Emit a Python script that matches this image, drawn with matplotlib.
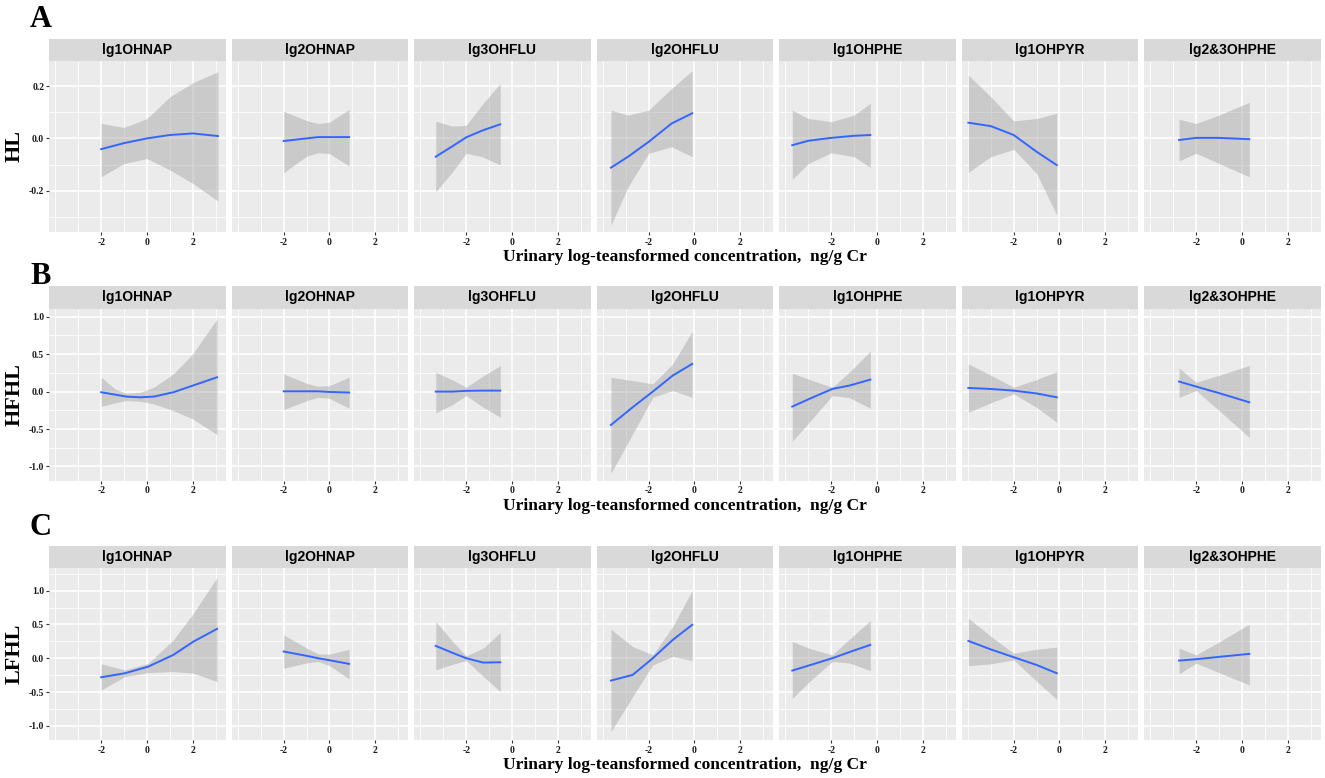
import numpy as np
import matplotlib
matplotlib.use('Agg')
import matplotlib.pyplot as plt

# 污染物名称（分面标题）
panels = ['lg1OHNAP', 'lg2OHNAP', 'lg3OHFLU', 'lg2OHFLU', 'lg1OHPHE', 'lg1OHPYR', 'lg2&3OHPHE']
rows = ['HL', 'HFHL', 'LFHL']
letters = ['A', 'B', 'C']

# 每个分面的x取值（各行共用）
x_nap1 = [-2, -1, 0, 1, 2, 3.1]
x_nap2 = [-2, -1, -0.5, 0, 0.86]
x_flu3 = [-3.33, -2.6, -2.0, -1.3, -0.51]
x_flu2 = [-3.65, -2.7, -1.82, -0.95, -0.10]
x_phe1 = [-3.70, -2.9, -1.95, -1.21, -0.29]
x_pyr1 = [-3.98, -3.0, -2.0, -1.0, -0.12]
x_phe23 = [-2.75, -2.0, -1.0, 0.32]

# A: HL
hl_x = [x_nap1, x_nap2, x_flu3,
        [-3.65, -2.9, -2.0, -1.0, -0.1],
        [-3.70, -3.0, -2.0, -1.0, -0.29],
        x_pyr1, x_phe23]
hl_fit = [[-0.041, -0.018, 0.0, 0.013, 0.019, 0.009],
          [-0.010, 0.0, 0.005, 0.005, 0.005],
          [-0.070, -0.030, 0.004, 0.030, 0.054],
          [-0.112, -0.070, -0.013, 0.057, 0.096],
          [-0.026, -0.009, 0.002, 0.010, 0.013],
          [0.060, 0.047, 0.013, -0.051, -0.102],
          [-0.006, 0.002, 0.002, -0.003]]
hl_hi = [[0.057, 0.042, 0.076, 0.159, 0.213, 0.255],
         [0.104, 0.068, 0.057, 0.062, 0.111],
         [0.066, 0.047, 0.050, 0.130, 0.210],
         [0.108, 0.089, 0.108, 0.191, 0.259],
         [0.108, 0.076, 0.064, 0.089, 0.134],
         [0.242, 0.159, 0.067, 0.076, 0.096],
         [0.073, 0.057, 0.089, 0.138]]
hl_lo = [[-0.147, -0.096, -0.077, -0.121, -0.172, -0.240],
         [-0.131, -0.068, -0.055, -0.058, -0.106],
         [-0.204, -0.128, -0.057, -0.070, -0.102],
         [-0.332, -0.185, -0.057, -0.032, -0.070],
         [-0.157, -0.096, -0.055, -0.070, -0.111],
         [-0.130, -0.070, -0.042, -0.134, -0.293],
         [-0.086, -0.057, -0.096, -0.147]]

# B: HFHL
hfhl_x = [[-2, -1.4, -0.9, -0.3, 0.3, 1.15, 2.0, 3.06],
          x_nap2, x_flu3, x_flu2, x_phe1, x_pyr1, x_phe23]
hfhl_fit = [[-0.009, -0.040, -0.067, -0.076, -0.067, -0.009, 0.080, 0.191],
            [0.004, 0.004, 0.004, -0.005, -0.013],
            [0.0, 0.0, 0.010, 0.013, 0.013],
            [-0.446, -0.209, 0.0, 0.214, 0.370],
            [-0.200, -0.090, 0.036, 0.080, 0.160],
            [0.049, 0.035, 0.013, -0.025, -0.076],
            [0.134, 0.067, -0.020, -0.143]]
hfhl_hi = [[0.191, 0.036, -0.022, -0.009, 0.058, 0.236, 0.504, 0.971],
           [0.236, 0.110, 0.071, 0.080, 0.191],
           [0.258, 0.156, 0.058, 0.200, 0.348],
           [0.191, 0.147, 0.103, 0.370, 0.806],
           [0.245, 0.156, 0.058, 0.258, 0.539],
           [0.370, 0.220, 0.058, 0.160, 0.267],
           [0.316, 0.125, 0.218, 0.348]]
hfhl_lo = [[-0.196, -0.151, -0.120, -0.129, -0.165, -0.254, -0.365, -0.575],
           [-0.241, -0.120, -0.076, -0.090, -0.223],
           [-0.285, -0.174, -0.053, -0.200, -0.343],
           [-1.092, -0.566, -0.076, 0.013, -0.076],
           [-0.664, -0.388, -0.053, -0.080, -0.223],
           [-0.276, -0.150, -0.031, -0.210, -0.410],
           [-0.076, 0.013, -0.254, -0.611]]

# C: LFHL
lfhl_x = [[-2, -0.96, 0.06, 1.15, 2.03, 3.06],
          x_nap2,
          [-3.33, -2.6, -2.0, -1.25, -0.51],
          x_flu2, x_phe1, x_pyr1, x_phe23]
lfhl_fit = [[-0.282, -0.222, -0.124, 0.049, 0.246, 0.434],
            [0.099, 0.035, 0.0, -0.030, -0.084],
            [0.182, 0.080, 0.0, -0.065, -0.060],
            [-0.331, -0.247, 0.0, 0.271, 0.494],
            [-0.183, -0.100, 0.0, 0.090, 0.197],
            [0.256, 0.130, 0.015, -0.100, -0.222],
            [-0.035, -0.015, 0.020, 0.064]]
lfhl_hi = [[-0.084, -0.173, -0.074, 0.271, 0.667, 1.194],
           [0.345, 0.150, 0.064, 0.060, 0.133],
           [0.543, 0.250, 0.034, 0.150, 0.380],
           [0.429, 0.172, 0.049, 0.469, 1.002],
           [0.246, 0.140, 0.049, 0.280, 0.557],
           [0.593, 0.325, 0.074, 0.133, 0.163],
           [0.148, 0.049, 0.241, 0.504]]
lfhl_lo = [[-0.470, -0.272, -0.213, -0.198, -0.222, -0.346],
           [-0.148, -0.070, -0.049, -0.110, -0.306],
           [-0.173, -0.090, -0.035, -0.270, -0.494],
           [-1.087, -0.568, -0.099, 0.025, -0.035],
           [-0.593, -0.330, -0.049, -0.070, -0.183],
           [-0.110, -0.084, -0.025, -0.341, -0.607],
           [-0.232, -0.074, -0.213, -0.395]]

x_ticks = [-2, 0, 2]
x_minor = [-4, -3, -1, 1, 3]
y_ticks = [[-0.2, 0.0, 0.2], [-1.0, -0.5, 0.0, 0.5, 1.0], [-1.0, -0.5, 0.0, 0.5, 1.0]]
y_minor = [[-0.3, -0.1, 0.1], [-0.75, -0.25, 0.25, 0.75], [-0.75, -0.25, 0.25, 0.75, 1.25]]
y_lims = [(-0.358, 0.296), (-1.19, 1.103), (-1.21, 1.33)]

data = [(hl_x, hl_fit, hl_hi, hl_lo),
        (hfhl_x, hfhl_fit, hfhl_hi, hfhl_lo),
        (lfhl_x, lfhl_fit, lfhl_hi, lfhl_lo)]

W, H = 1325, 778
fig = plt.figure(figsize=(W / 100, H / 100), dpi=100)
fig.patch.set_facecolor('white')

serif = 'Liberation Serif'
sans = 'Liberation Sans'

# 版面（像素）
col_left, col_step, col_w = 49, 182.5, 176.5
strip_top = [39, 286, 546]
panel_top = [61, 309, 568.3]
panel_bot = [232, 480.7, 740]
letter_base = [27, 284, 535]


def fx(px):
    return px / W


def fy(py):
    return 1 - py / H


for r in range(3):
    xs, fits, his, los = data[r]
    for c in range(7):
        left = col_left + c * col_step
        ax = fig.add_axes([fx(left), fy(panel_bot[r]), col_w / W,
                           (panel_bot[r] - panel_top[r]) / H])
        ax.set_facecolor('#EBEBEB')
        for s in ax.spines.values():
            s.set_visible(False)
        ax.set_xlim(-4.28, 3.43)
        ax.set_ylim(*y_lims[r])
        for v in x_minor:
            ax.axvline(v, color='white', lw=0.6, zorder=0)
        for v in y_minor[r]:
            ax.axhline(v, color='white', lw=0.6, zorder=0)
        for v in x_ticks:
            ax.axvline(v, color='white', lw=1.2, zorder=0)
        for v in y_ticks[r]:
            ax.axhline(v, color='white', lw=1.2, zorder=0)

        ax.fill_between(xs[c], los[c], his[c], color='#999999', alpha=0.4, lw=0, zorder=2)
        ax.plot(xs[c], fits[c], color='#3366FF', lw=1.4, zorder=3)

        ax.set_xticks(x_ticks)
        ax.set_xticklabels(['-2', '0', '2'])
        ax.set_yticks(y_ticks[r])
        if c == 0:
            ax.set_yticklabels(['%.1f' % v for v in y_ticks[r]])
            ax.tick_params(axis='y', length=2.5, width=0.8, color='#333333', pad=1)
        else:
            ax.tick_params(axis='y', length=0, labelleft=False)
        ax.tick_params(axis='x', length=2.5, width=0.8, color='#333333', pad=1.5)
        for lab in ax.get_xticklabels() + ax.get_yticklabels():
            lab.set_fontfamily(serif)
            lab.set_fontweight('bold')
            lab.set_fontsize(7)
            lab.set_color('#1a1a1a')

        # 分面标题条
        sax = fig.add_axes([fx(left), fy(panel_top[r]), col_w / W,
                            (panel_top[r] - strip_top[r]) / H])
        sax.set_facecolor('#D9D9D9')
        sax.set_xticks([])
        sax.set_yticks([])
        for s in sax.spines.values():
            s.set_visible(False)
        sax.text(0.5, 0.5, panels[c], ha='center', va='center', transform=sax.transAxes,
                 fontfamily=sans, fontweight='bold', fontsize=10, color='black')

    mid = (panel_top[r] + panel_bot[r]) / 2
    fig.text(fx(14.5), fy(mid), rows[r], rotation=90, ha='center', va='center',
             fontfamily=serif, fontweight='bold', fontsize=16)
    fig.text(fx(30), fy(letter_base[r]), letters[r], ha='left', va='baseline',
             fontfamily=serif, fontweight='bold', fontsize=22)
    fig.text(fx(684.5), fy(panel_bot[r] + 25), 'Urinary log-teansformed concentration,  ng/g Cr',
             ha='center', va='center', fontfamily=serif, fontweight='bold', fontsize=12.6)

plt.savefig('out.png', dpi=100)
